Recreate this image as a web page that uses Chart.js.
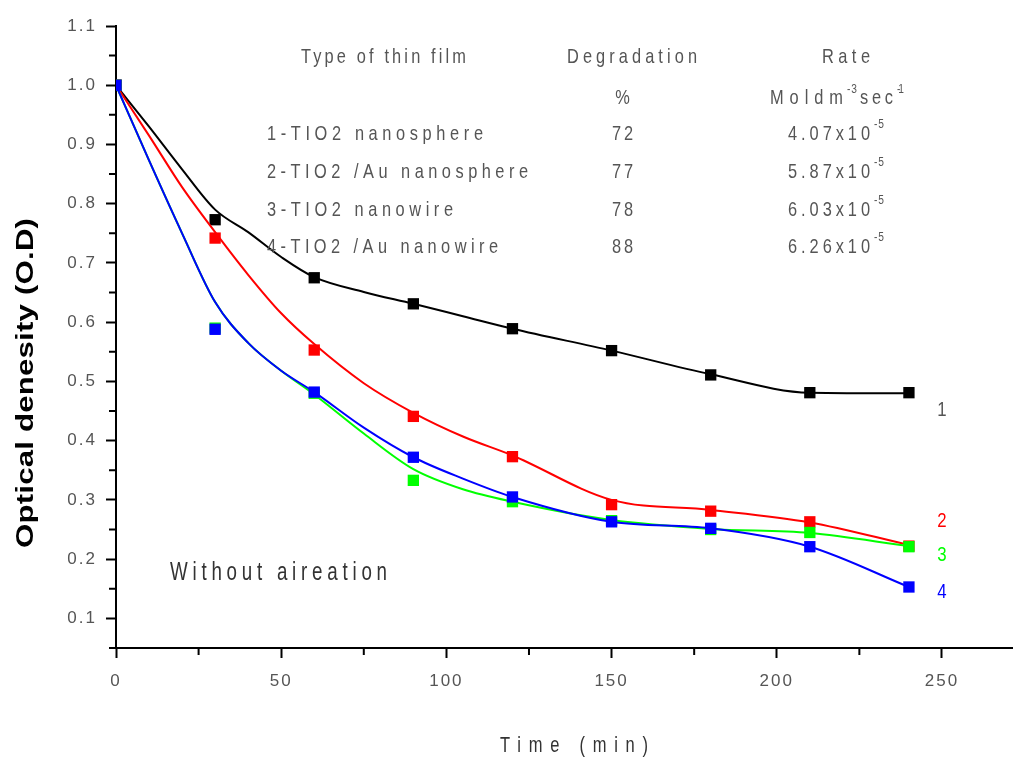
<!DOCTYPE html>
<html>
<head>
<meta charset="utf-8">
<title>Optical density vs time</title>
<script src="https://cdn.jsdelivr.net/npm/chart.js@4.4.1/dist/chart.umd.min.js"></script>
<style>
  html, body { margin: 0; padding: 0; background: #fff; }
  canvas { display: block; }
</style>
</head>
<body>
<canvas id="odChart" width="1013" height="761"></canvas>
<script>
// sampling times (min) and measured optical density of each film
var times = [0, 30, 60, 90, 120, 150, 180, 210, 240];
var odSphere   = [1.0, 0.773, 0.675, 0.631, 0.589, 0.552, 0.511, 0.481, 0.481];
var odAuSphere = [1.0, 0.742, 0.553, 0.441, 0.373, 0.292, 0.281, 0.263, 0.222];
var odWire     = [1.0, 0.590, 0.480, 0.333, 0.297, 0.265, 0.250, 0.245, 0.221];
var odAuWire   = [1.0, 0.588, 0.482, 0.372, 0.305, 0.263, 0.252, 0.221, 0.153];

// smoothed decay curves drawn through the measurements
var fitTimes    = [0, 10, 20, 30, 40, 50, 60, 75, 90, 105, 120, 150, 180, 210, 240];
var fitSphere   = [1.0, 0.930, 0.858, 0.790, 0.752, 0.710, 0.676, 0.651, 0.631, 0.610, 0.589, 0.552, 0.512, 0.481, 0.480];
var fitAuSphere = [1.0, 0.915, 0.828, 0.752, 0.680, 0.615, 0.563, 0.497, 0.447, 0.407, 0.375, 0.300, 0.283, 0.262, 0.224];
var fitWire     = [1.0, 0.873, 0.750, 0.634, 0.565, 0.518, 0.478, 0.412, 0.352, 0.318, 0.297, 0.266, 0.251, 0.244, 0.222];
var fitAuWire   = [1.0, 0.873, 0.750, 0.634, 0.565, 0.518, 0.482, 0.422, 0.372, 0.336, 0.305, 0.263, 0.252, 0.221, 0.153];

var xTicks = [0, 50, 100, 150, 200, 250];
var xMinorTicks = [25, 75, 125, 175, 225];
var yTicks = [0.1, 0.2, 0.3, 0.4, 0.5, 0.6, 0.7, 0.8, 0.9, 1.0, 1.1];
var yMinorTicks = [0.05, 0.15, 0.25, 0.35, 0.45, 0.55, 0.65, 0.75, 0.85, 0.95, 1.05];

// summary table
var filmNames = ['1-TIO2 nanosphere', '2-TIO2 /Au nanosphere', '3-TIO2 nanowire', '4-TIO2 /Au nanowire'];
var degradation = ['72', '77', '78', '88'];
var rates = ['4.07', '5.87', '6.03', '6.26'];
var curveTags = ['1', '2', '3', '4'];
var curveTagY = [0.451, 0.264, 0.207, 0.144];

var colors = ['#000000', '#ff0000', '#00ff00', '#0000ff'];
var tagColors = ['#555555', '#ff0000', '#00ff00', '#0000ff'];

var sans = "'Liberation Sans', Arial, sans-serif";
var grey = '#555555';

function pts(xs, ys) {
  return xs.map(function(x, i) { return { x: x, y: ys[i] }; });
}

function markers(label, ys, color, order) {
  return {
    label: label, data: pts(times, ys), showLine: false,
    pointStyle: 'rect', pointRadius: 8, pointHoverRadius: 8,
    backgroundColor: color, borderColor: color, borderWidth: 0, order: order
  };
}

function curve(label, ys, color, order) {
  return {
    label: label, data: pts(fitTimes, ys), showLine: true, pointRadius: 0,
    borderColor: color, borderWidth: 2, cubicInterpolationMode: 'monotone',
    fill: false, order: order
  };
}

// squeezed, letter-spaced text stretched to span [x, x + width]
function textFit(ctx, str, x, y, width, size, color, sx, bold) {
  ctx.save();
  ctx.font = (bold ? 'bold ' : '') + size + 'px ' + sans;
  ctx.letterSpacing = '0px';
  var n = Array.from(str).length;
  var w0 = ctx.measureText(str).width;
  var gap = n > 1 ? (width - w0 * sx) / (n - 1) : 0;
  ctx.translate(x, y);
  ctx.scale(sx, 1);
  ctx.letterSpacing = (gap / sx) + 'px';
  ctx.fillStyle = color;
  ctx.textAlign = n > 1 ? 'left' : 'center';
  ctx.textBaseline = 'middle';
  ctx.fillText(str, n > 1 ? 0 : width / 2 / sx, 0);
  ctx.restore();
}

var annotations = {
  id: 'annotations',
  beforeDraw: function(chart) {
    chart.ctx.letterSpacing = '2px';
  },
  beforeDatasetsDraw: function(chart) {
    chart.ctx.letterSpacing = '0px';
  },
  afterDraw: function(chart) {
    var ctx = chart.ctx;
    var xs = chart.scales.x, ys = chart.scales.y;
    ctx.save();

    // minor ticks
    ctx.strokeStyle = '#000';
    ctx.lineWidth = 2;
    ctx.beginPath();
    xMinorTicks.forEach(function(v) {
      var px = xs.getPixelForValue(v);
      ctx.moveTo(px, xs.top);
      ctx.lineTo(px, xs.top + 7);
    });
    yMinorTicks.forEach(function(v) {
      var py = ys.getPixelForValue(v);
      ctx.moveTo(ys.right, py);
      ctx.lineTo(ys.right - 7, py);
    });
    ctx.stroke();

    // table header
    textFit(ctx, 'Type of thin film', 301, 57, 165, 21, grey, 0.78);
    textFit(ctx, 'Degradation', 567, 57, 130, 21, grey, 0.78);
    textFit(ctx, 'Rate', 822, 57, 48, 21, grey, 0.78);
    textFit(ctx, '%', 612, 98, 21, 21, grey, 0.78);
    textFit(ctx, 'Moldm', 770, 98, 73, 21, grey, 0.78);
    textFit(ctx, '-3', 847, 90, 10, 12, grey, 0.85);
    textFit(ctx, 'sec', 860, 98, 33, 21, grey, 0.78);
    textFit(ctx, '-1', 897, 90, 7, 12, grey, 0.85);

    // table rows
    var rowY = [134, 172, 210, 247];
    var nameRight = [483, 528, 453, 498];
    filmNames.forEach(function(name, i) {
      textFit(ctx, name, 267, rowY[i], nameRight[i] - 267, 21, grey, 0.78);
      textFit(ctx, degradation[i], 612, rowY[i], 21, 21, grey, 0.78);
      textFit(ctx, rates[i] + 'x10', 788, rowY[i], 82, 21, grey, 0.78);
      textFit(ctx, '-5', 874, rowY[i] - 9, 10, 12, grey, 0.85);
    });

    textFit(ctx, 'Without aireation', 170, 573, 217, 25, '#333333', 0.75);

    curveTags.forEach(function(tag, i) {
      textFit(ctx, tag, 934, ys.getPixelForValue(curveTagY[i]), 16, 21, tagColors[i], 0.8);
    });

    textFit(ctx, 'Time (min)', 500, 746, 148, 22, '#333333', 0.75);

    ctx.translate(26, 548);
    ctx.rotate(-Math.PI / 2);
    textFit(ctx, 'Optical denesity (O.D)', 0, 0, 330, 24, '#000000', 1.3, true);
    ctx.restore();
  }
};

var ctx = document.getElementById('odChart').getContext('2d');
var odChart = new Chart(ctx, {
  type: 'scatter',
  data: {
    datasets: [
      markers('4', odAuWire, colors[3], 0),
      curve('4 fit', fitAuWire, colors[3], 1),
      markers('3', odWire, colors[2], 2),
      curve('3 fit', fitWire, colors[2], 3),
      markers('2', odAuSphere, colors[1], 4),
      curve('2 fit', fitAuSphere, colors[1], 5),
      markers('1', odSphere, colors[0], 6),
      curve('1 fit', fitSphere, colors[0], 7)
    ]
  },
  options: {
    responsive: false,
    animation: false,
    devicePixelRatio: 1,
    layout: { autoPadding: false, padding: { top: 26, left: 0, right: 0, bottom: 0 } },
    plugins: {
      legend: { display: false },
      tooltip: { enabled: false }
    },
    scales: {
      x: {
        type: 'linear',
        min: 0,
        max: 271.5,
        afterBuildTicks: function(s) { s.ticks = xTicks.map(function(v) { return { value: v }; }); },
        afterFit: function(s) { s.height = 113; },
        grid: { display: true, drawOnChartArea: false, drawTicks: true, tickLength: 10, tickWidth: 2, tickColor: '#000' },
        border: { display: true, color: '#000', width: 2 },
        ticks: {
          color: grey, font: { family: sans, size: 17 }, padding: 13,
          maxRotation: 0, autoSkip: false,
          callback: function(v) { return String(v); }
        }
      },
      y: {
        type: 'linear',
        min: 0.05,
        max: 1.1,
        afterBuildTicks: function(s) { s.ticks = yTicks.map(function(v) { return { value: v }; }); },
        afterFit: function(s) { s.width = 116; },
        grid: { display: true, drawOnChartArea: false, drawTicks: true, tickLength: 10, tickWidth: 2, tickColor: '#000' },
        border: { display: true, color: '#000', width: 2 },
        ticks: {
          color: grey, font: { family: sans, size: 17 }, padding: 9,
          autoSkip: false,
          callback: function(v) { return v.toFixed(1); }
        }
      }
    }
  },
  plugins: [annotations]
});
</script>
</body>
</html>
